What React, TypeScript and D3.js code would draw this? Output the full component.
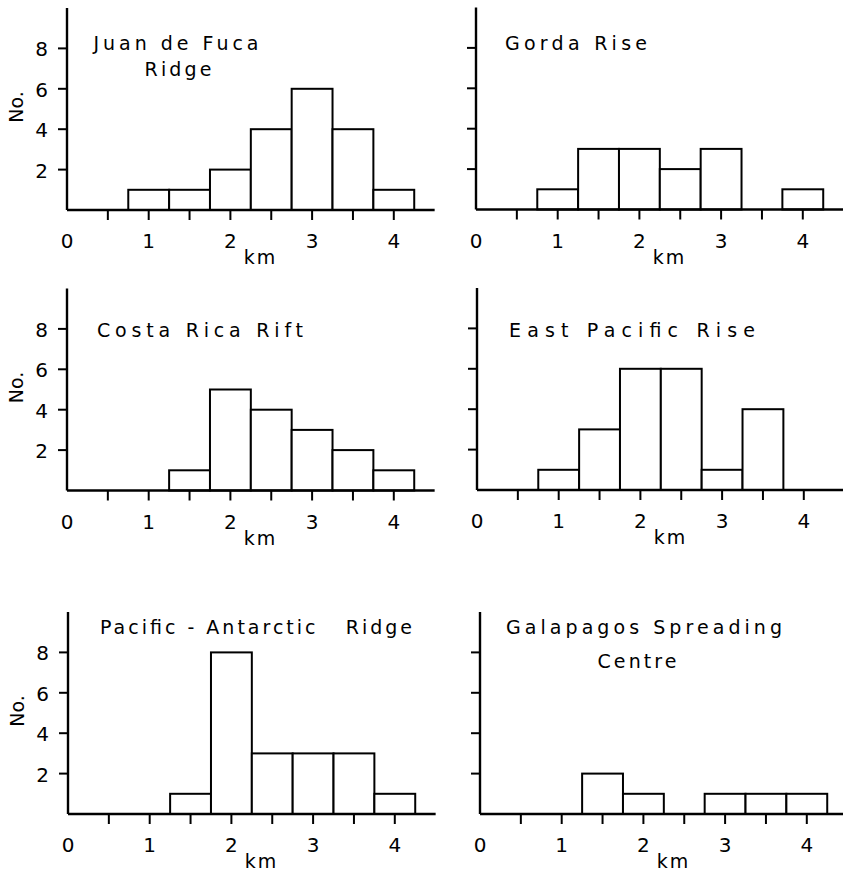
import React from "react";
import * as d3 from "d3";

// ---- data ----
const binCenters = [1, 1.5, 2, 2.5, 3, 3.5, 4];
const binWidth = 0.5;
const xTickValues = [0.5, 1, 1.5, 2, 2.5, 3, 3.5, 4];
const xTickLabels = ["0", "1", "2", "3", "4"];
const yTickValues = [2, 4, 6, 8];

const juanDeFuca = [1, 1, 2, 4, 6, 4, 1];
const gordaRise = [1, 3, 3, 2, 3, 0, 1];
const costaRica = [0, 1, 5, 4, 3, 2, 1];
const eastPacific = [1, 3, 6, 6, 1, 4, 0];
const pacificAntarctic = [0, 1, 8, 3, 3, 3, 1];
const galapagos = [0, 2, 1, 0, 1, 1, 1];

const seriesValues = [juanDeFuca, gordaRise, costaRica, eastPacific, pacificAntarctic, galapagos];
const panelTitles = [
  ["Juan de Fuca", "Ridge"],
  ["Gorda Rise"],
  ["Costa Rica Rift"],
  ["East Pacific Rise"],
  ["Pacific - Antarctic   Ridge"],
  ["Galapagos Spreading", "Centre"],
];

// ---- layout ----
const W = 843;
const H = 873;
const PX_PER_KM = 81.7;
const PX_PER_UNIT = 20.2;
const panelLayout = [
  { x0: 67, base: 210, yLabels: true, title: [{ cx: 176, y: 50, w: 165 }, { cx: 178, y: 76, w: 67 }] },
  { x0: 476, base: 209.5, yLabels: false, title: [{ cx: 576, y: 50, w: 142 }] },
  { x0: 67, base: 490.5, yLabels: true, title: [{ cx: 200, y: 337, w: 206 }] },
  { x0: 477, base: 490, yLabels: false, title: [{ cx: 632, y: 337, w: 246 }] },
  { x0: 68, base: 814, yLabels: true, title: [{ cx: 256, y: 634, w: 312 }] },
  { x0: 480, base: 814, yLabels: false, title: [{ cx: 644, y: 634, w: 276 }, { cx: 637, y: 668, w: 79 }] },
];

const FONT = "'DejaVu Sans', 'Liberation Sans', sans-serif";

function Panel({ idx }: { idx: number }) {
  const L = panelLayout[idx];
  const values = seriesValues[idx];
  const x = d3.scaleLinear().domain([0, 4.5]).range([L.x0, L.x0 + 4.5 * PX_PER_KM]);
  const y = d3.scaleLinear().domain([0, 10]).range([L.base, L.base - 10 * PX_PER_UNIT]);

  return (
    <g>
      {/* bars */}
      {binCenters.map((c, i) =>
        values[i] > 0 ? (
          <rect
            key={i}
            x={x(c - binWidth / 2)}
            y={y(values[i])}
            width={x(c + binWidth / 2) - x(c - binWidth / 2)}
            height={y(0) - y(values[i])}
            fill="#fff"
            stroke="#000"
            strokeWidth={2}
          />
        ) : null
      )}
      {/* axes */}
      <line x1={x(0)} x2={x(4.5)} y1={y(0)} y2={y(0)} stroke="#000" strokeWidth={2.6} />
      <line x1={x(0)} x2={x(0)} y1={y(0)} y2={y(10)} stroke="#000" strokeWidth={2.4} />
      {xTickValues.map((t) => (
        <line key={t} x1={x(t)} x2={x(t)} y1={y(0)} y2={y(0) + 10} stroke="#000" strokeWidth={2} />
      ))}
      {xTickLabels.map((lab, i) => (
        <text
          key={lab}
          x={x(i)}
          y={y(0) + 38}
          textAnchor="middle"
          fontFamily={FONT}
          fontSize={20}
          fill="#000"
        >
          {lab}
        </text>
      ))}
      <text x={x(2.37)} y={y(0) + 54} textAnchor="middle" fontFamily={FONT} fontSize={19} letterSpacing={2} fill="#000">
        km
      </text>
      {yTickValues.map((t) => (
        <line key={t} x1={x(0) - 9} x2={x(0)} y1={y(t)} y2={y(t)} stroke="#000" strokeWidth={2} />
      ))}
      {L.yLabels &&
        yTickValues.map((t) => (
          <text
            key={t}
            x={x(0) - 19}
            y={y(t) + 8}
            textAnchor="end"
            fontFamily={FONT}
            fontSize={20}
            fill="#000"
          >
            {t}
          </text>
        ))}
      {L.yLabels && (
        <text
          transform={`translate(${x(0) - 44},${y(5.1)}) rotate(-90)`}
          textAnchor="middle"
          fontFamily={FONT}
          fontSize={19}
          fill="#000"
        >
          No.
        </text>
      )}
      {/* title */}
      {panelTitles[idx].map((t, i) => (
        <text
          key={i}
          x={L.title[i].cx}
          y={L.title[i].y}
          textAnchor="middle"
          fontFamily={FONT}
          fontSize={19}
          textLength={L.title[i].w}
          lengthAdjust="spacing"
          fill="#000"
          style={{ whiteSpace: "pre" }}
        >
          {t}
        </text>
      ))}
    </g>
  );
}

export default function App() {
  return (
    <svg
      width={W}
      height={H}
      viewBox={`0 0 ${W} ${H}`}
      style={{ position: "absolute", left: 0, top: 0, background: "#fff" }}
    >
      <rect x={0} y={0} width={W} height={H} fill="#fff" />
      {seriesValues.map((_, i) => (
        <Panel key={i} idx={i} />
      ))}
    </svg>
  );
}
